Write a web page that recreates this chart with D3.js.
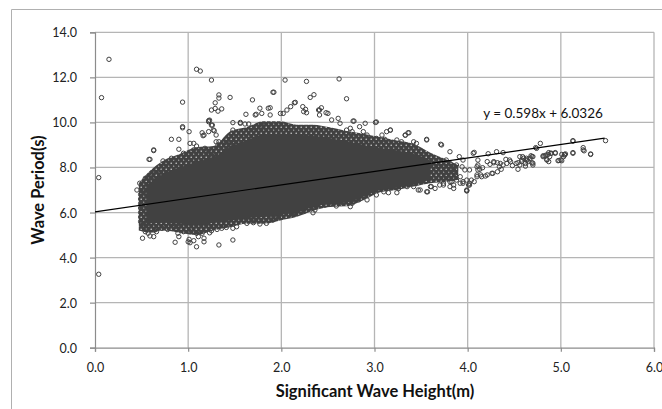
<!DOCTYPE html>
<html>
<head>
<meta charset="utf-8">
<script src="https://cdn.jsdelivr.net/npm/d3@7/dist/d3.min.js"></script>
<style>
  html, body { margin: 0; padding: 0; background: #fff; }
  svg { display: block; }
</style>
</head>
<body>
<svg id="chart" width="662" height="409"></svg>
<script>
// ---------------- DATA ----------------
const xTicks = [0, 1, 2, 3, 4, 5, 6];
const yTicks = [0, 2, 4, 6, 8, 10, 12, 14];
const xTitle = "Significant Wave Height(m)";
const yTitle = "Wave Period(s)";
const trendSlope = 0.598;
const trendIntercept = 6.0326;
const trendRange = [0, 5.47];
const trendLabel = "y = 0.598x + 6.0326";

// outer, semi-dense band of the cloud (markers packed with small gaps)
const bandH     = [0.47, 0.59, 0.73, 0.91, 1.09, 1.27, 1.45, 1.63, 1.81, 1.99, 2.16, 2.34, 2.52, 2.70, 2.88, 3.06, 3.24, 3.42, 3.60, 3.77, 3.90];
const bandUpper = [7.30, 7.85, 8.30, 8.60, 8.90, 8.95, 9.60, 9.80, 10.05, 10.05, 9.90, 9.90, 9.78, 9.62, 9.50, 9.35, 9.20, 9.05, 8.65, 8.35, 8.10];
const bandLower = [5.20, 5.10, 5.20, 5.10, 5.00, 5.20, 5.35, 5.50, 5.50, 5.65, 5.80, 6.08, 6.25, 6.28, 6.55, 6.90, 7.00, 7.15, 7.30, 7.35, 7.45];

// inner, solid core of the cloud
const coreH     = [0.55, 0.73, 0.91, 1.09, 1.27, 1.45, 1.63, 1.81, 1.99, 2.16, 2.34, 2.52, 2.70, 2.88, 3.06, 3.24, 3.42, 3.60];
const coreUpper = [7.20, 7.70, 8.00, 8.25, 8.45, 8.90, 9.20, 9.45, 9.50, 9.45, 9.40, 9.30, 9.15, 9.00, 8.85, 8.75, 8.60, 8.30];
const coreLower = [5.50, 5.55, 5.50, 5.45, 5.55, 5.65, 5.75, 5.80, 5.90, 6.00, 6.25, 6.40, 6.45, 6.70, 7.00, 7.10, 7.25, 7.45];

// individually visible markers [height, period]
const fringePoints = [
  [0.15,12.8],[0.07,11.1],[0.04,7.55],[0.04,3.26],
  [0.94,10.9],[1.09,12.36],[1.13,12.28],[1.25,11.88],
  [0.94,9.81],[0.94,9.76],[1.01,9.59],[0.82,9.25],[0.90,9.25],[0.63,8.75],[0.59,8.36],
  [1.33,11.22],[1.33,11.08],[1.45,11.11],[1.29,10.87],
  [1.25,10.55],[1.29,10.62],[1.32,10.5],[1.36,10.6],
  [1.22,10.08],[1.26,9.88],[1.28,9.63],[1.15,9.54],[1.16,9.41],
  [1.69,11.0],[1.92,11.34],[2.04,11.88],[2.27,11.82],[2.31,11.11],[2.35,11.23],
  [1.62,10.36],[1.73,10.36],[1.77,10.63],[1.88,10.65],[2.14,10.87],[2.41,10.55],[2.48,10.43],
  [1.48,9.99],[1.56,10.0],
  [2.62,11.93],[2.70,11.05],[2.78,10.06],[3.01,10.0],[3.17,9.66],[3.33,9.43],[3.37,9.54],
  [3.56,9.25],[3.71,9.03],[4.07,8.67],[4.22,8.61],[4.31,8.70],[4.38,8.66],
  [4.78,9.07],[5.13,9.19],[5.24,8.88],[5.24,8.78],[5.32,8.58],[5.48,9.19],[4.73,8.88],
  [4.81,8.52],[4.86,8.57],[4.85,8.35],[4.89,8.63],[4.94,8.63],[5.00,8.34],[5.04,8.55],[5.05,8.60],[4.98,8.31],
  [5.13,8.63],
  [4.11,8.33],[4.16,7.99],[4.21,8.26],[4.24,8.14],[4.28,8.21],[4.32,8.21],[4.34,8.03],[4.38,8.11],
  [4.41,8.36],[4.46,8.26],[4.48,8.08],[4.54,8.21],[4.59,8.48],[4.64,8.33],[4.68,8.52],[4.70,8.19],
  [4.54,7.92],[4.21,7.67],[4.27,7.74],[4.14,7.67],[4.11,7.89],[4.07,7.37],[4.02,7.30],[3.99,6.97],
  [3.91,8.48],[3.56,9.22],
  [3.77,8.33],[3.81,8.18],[3.85,7.96],[3.88,8.11],[3.94,8.03],[3.97,7.89],[3.92,7.59],[3.99,7.44],
  [4.01,7.22],[3.95,7.37],[3.81,7.37],[3.85,7.22],[3.74,7.30],[3.77,7.59],[3.99,6.96],
  [4.11,8.11],[4.13,7.92],[4.15,7.59],[4.19,7.62],[4.26,7.74],[4.32,7.81],[4.36,7.92],[4.42,8.18],
  [4.45,8.33],[4.52,8.18],[4.58,8.33],[4.63,8.41],[4.69,8.48],[4.56,8.11],[4.35,8.18],[4.28,8.26],[4.10,7.67],
  [4.74,8.85],[4.56,8.48],[4.60,8.41],[4.63,8.33],[4.67,8.41],[4.70,8.48],[4.58,8.26],[4.62,8.18],
  [4.65,8.26],[4.69,8.21],[4.70,8.11],[4.62,8.06],
  [4.81,8.48],[4.84,8.55],[4.87,8.66],[4.88,8.48],[4.90,8.63],[4.85,8.33],[4.87,8.26],[4.94,8.66],[4.83,8.51],
  [4.97,8.30],[5.01,8.30],[5.01,8.58],[5.04,8.58],[5.03,8.48],[5.13,9.17],[5.13,8.66],[5.25,8.74],[5.32,8.60],
  [3.61,7.15],[3.74,7.22],[3.83,7.37],[3.92,7.30],[3.99,7.0],[4.02,7.22],[4.10,7.59],[4.10,8.03],
  [4.06,8.63],[3.81,8.70],[3.72,9.0],[3.95,8.33],[4.02,7.89],[3.86,7.74],[3.77,7.89],[3.68,8.03],[3.57,6.92],
  // upper fringe of the cloud
  [0.63,8.78],[0.58,8.36],[0.62,7.71],[0.73,8.29],[0.75,8.18],[0.82,8.41],[0.90,8.81],
  [0.95,8.63],[0.98,8.41],[1.02,9.07],[1.06,9.07],[1.09,8.95],[1.06,8.78],[1.11,8.63],
  [1.17,9.44],[1.22,9.59],[1.27,9.66],[1.30,9.44],[1.23,10.1],[1.22,10.03],[1.25,9.88],
  [1.30,9.14],[1.33,9.14],[1.32,9.0],[1.18,8.85],[1.22,8.70],[1.25,8.55],
  [1.41,9.10],[1.45,8.92],[1.48,9.07],[1.47,9.52],[1.48,9.66],
  [1.56,9.96],[1.61,9.93],[1.65,9.93],[1.72,10.33],[1.79,10.40],[1.86,10.63],[1.88,10.33],
  [1.68,9.74],[1.74,9.81],[1.79,9.88],
  [1.91,11.34],[2.15,10.89],[2.10,10.70],[2.06,10.55],[2.02,10.40],[1.99,10.40],
  [2.23,10.70],[2.26,10.58],[2.24,10.48],[2.27,10.43],[2.40,10.55],[2.43,10.65],[2.41,10.33],[2.50,10.40],
  [2.54,10.11],[2.61,10.18],[2.63,9.96],[2.77,10.06],[2.74,9.74],[2.70,9.66],[2.76,9.59],
  [2.84,9.81],[2.90,9.96],[3.02,10.02],[2.88,9.59],[2.92,9.44],[3.08,9.44],[3.13,9.59],[3.17,9.66],
  [3.02,9.29],[3.11,9.25],[3.33,9.44],[3.36,9.54],[3.24,9.22],[3.29,9.14],[3.42,9.14],[3.45,9.07],
  [0.45,7.0],[0.48,7.30],[0.54,7.52],[0.57,7.59],[0.61,7.44],[0.66,7.66],[0.70,7.74],[0.73,7.81],
  [0.49,5.6],[0.49,5.8],[0.49,6.0],[0.49,6.2],[0.49,6.4],[0.49,6.6],[0.49,6.8],
  [0.52,5.5],[0.55,5.45],[0.52,6.9],
  // lower fringe of the cloud
  [0.51,4.86],[0.63,4.93],[0.59,4.96],[0.52,5.37],[0.54,5.15],[0.57,5.08],[0.64,5.22],[0.66,5.15],
  [0.86,4.68],[0.90,4.93],[0.89,5.08],[1.00,4.70],[1.02,4.66],[1.06,4.75],[1.01,4.81],[1.09,4.48],
  [1.17,4.70],[1.17,4.86],[1.11,4.93],[1.09,5.08],[1.15,5.08],[1.33,4.56],[1.48,4.78],
  [1.23,5.10],[1.25,5.19],[1.31,5.25],[1.36,5.30],[1.41,5.34],[1.48,5.30],[1.52,5.37],
  [1.63,5.52],[1.70,5.55],[1.77,5.49],[1.84,5.52],[1.91,5.74],[1.97,5.81],
  [0.82,5.45],[0.88,5.37],[0.95,5.15],[1.02,5.15],[0.72,5.30],[0.78,5.25],
  [1.91,5.67],[2.00,5.81],[2.11,5.89],[2.15,5.99],[2.24,6.04],[2.34,5.99],[2.36,6.11],[2.47,6.33],
  [2.52,6.36],[2.59,6.29],[2.63,6.41],[2.74,6.26],[2.76,6.41],[2.83,6.56],[2.92,6.56],[3.02,6.78],
  [3.10,6.92],[3.15,6.88],[3.24,6.88],[3.26,7.07],[3.35,7.15],[3.42,7.15],[3.47,7.00],
  [3.49,7.0],[3.56,6.92],[3.60,7.15],[3.65,7.07],[3.70,7.22],
  [3.81,7.15],[3.85,7.07],[3.88,7.44],[3.95,7.30],[4.04,7.44]
];

// ---------------- DRAWING ----------------
const svg = d3.select("#chart");
const W = 662, H = 409;
const plot = { left: 95, right: 654, top: 32.3, bottom: 347.7 };

const x = d3.scaleLinear().domain([0, 6]).range([plot.left, plot.right]);
const y = d3.scaleLinear().domain([0, 14]).range([plot.bottom, plot.top]);

const FONT = "Lato, 'Open Sans', sans-serif";
const gridColor = "#b5b5b5";
const markColor = "#414141";

svg.append("rect").attr("width", W).attr("height", H).attr("fill", "#fff");

// speckled texture for the packed-marker band
const defs = svg.append("defs");
const pat = defs.append("pattern").attr("id", "packed")
  .attr("patternUnits", "userSpaceOnUse").attr("width", 5).attr("height", 6);
pat.append("rect").attr("width", 5).attr("height", 6).attr("fill", markColor);
pat.append("circle").attr("cx", 1.2).attr("cy", 1.2).attr("r", 0.75).attr("fill", "#d8d8d8");
pat.append("circle").attr("cx", 3.7).attr("cy", 4.2).attr("r", 0.6).attr("fill", "#bdbdbd");

// outer chart frame (extends past right and bottom edges)
svg.append("path")
  .attr("d", `M11.5,${H + 2} L11.5,9.5 L${W + 2},9.5`)
  .attr("fill", "none").attr("stroke", "#b0b0b0").attr("stroke-width", 1);

// gridlines
svg.append("g").selectAll("line").data(yTicks.filter(d => d > 0)).join("line")
  .attr("x1", plot.left).attr("x2", plot.right)
  .attr("y1", d => y(d)).attr("y2", d => y(d))
  .attr("stroke", gridColor).attr("stroke-width", 1.3);
svg.append("g").selectAll("line").data(xTicks.filter(d => d > 0)).join("line")
  .attr("y1", plot.top).attr("y2", plot.bottom)
  .attr("x1", d => x(d)).attr("x2", d => x(d))
  .attr("stroke", gridColor).attr("stroke-width", 1.3);

// axes
const xAxis = d3.axisBottom(x).tickValues(xTicks).tickSize(4).tickFormat(d3.format(".1f"));
const yAxis = d3.axisLeft(y).tickValues(yTicks).tickSize(5).tickFormat(d3.format(".1f"));

const gx = svg.append("g").attr("transform", `translate(0,${plot.bottom})`).call(xAxis);
const gy = svg.append("g").attr("transform", `translate(${plot.left},0)`).call(yAxis);
[gx, gy].forEach(g => {
  g.select(".domain").attr("stroke", "#8c8c8c").attr("stroke-width", 1.2);
  g.selectAll(".tick line").attr("stroke", "#8c8c8c").attr("stroke-width", 1.2);
  g.selectAll(".tick text").attr("font-family", FONT).attr("font-size", 12.5).attr("fill", "#222");
});
gx.selectAll(".tick text").attr("dy", null).attr("y", 24);
gy.selectAll(".tick text").attr("x", -18).attr("dy", "0.36em");

// packed band and solid core of the cloud
const band = bandH.map((h, i) => ({ h, u: bandUpper[i], l: bandLower[i] }));
const core = coreH.map((h, i) => ({ h, u: coreUpper[i], l: coreLower[i] }));
const area = d3.area().x(d => x(d.h)).y0(d => y(d.l)).y1(d => y(d.u)).curve(d3.curveMonotoneX);
svg.append("path").datum(band).attr("d", area).attr("fill", "url(#packed)");
svg.append("path").datum(core).attr("d", area).attr("fill", markColor);

// markers
svg.append("g").selectAll("circle").data(fringePoints).join("circle")
  .attr("cx", d => x(d[0])).attr("cy", d => y(d[1]))
  .attr("r", 2.2)
  .attr("fill", "none").attr("stroke", markColor).attr("stroke-width", 1);

// trend line
svg.append("line")
  .attr("x1", x(trendRange[0])).attr("y1", y(trendSlope * trendRange[0] + trendIntercept))
  .attr("x2", x(trendRange[1])).attr("y2", y(trendSlope * trendRange[1] + trendIntercept))
  .attr("stroke", "#000").attr("stroke-width", 1.2);

svg.append("text")
  .attr("x", 543).attr("y", 117.5)
  .attr("text-anchor", "middle")
  .attr("font-family", FONT).attr("font-size", 13.5).attr("fill", "#111")
  .text(trendLabel);

// axis titles
svg.append("text")
  .attr("x", 375).attr("y", 397)
  .attr("text-anchor", "middle")
  .attr("font-family", FONT).attr("font-size", 16.5).attr("font-weight", "bold").attr("fill", "#111")
  .text(xTitle);

svg.append("text")
  .attr("transform", `translate(44,190) rotate(-90)`)
  .attr("text-anchor", "middle")
  .attr("font-family", FONT).attr("font-size", 16.5).attr("font-weight", "bold").attr("fill", "#111")
  .text(yTitle);
</script>
</body>
</html>
